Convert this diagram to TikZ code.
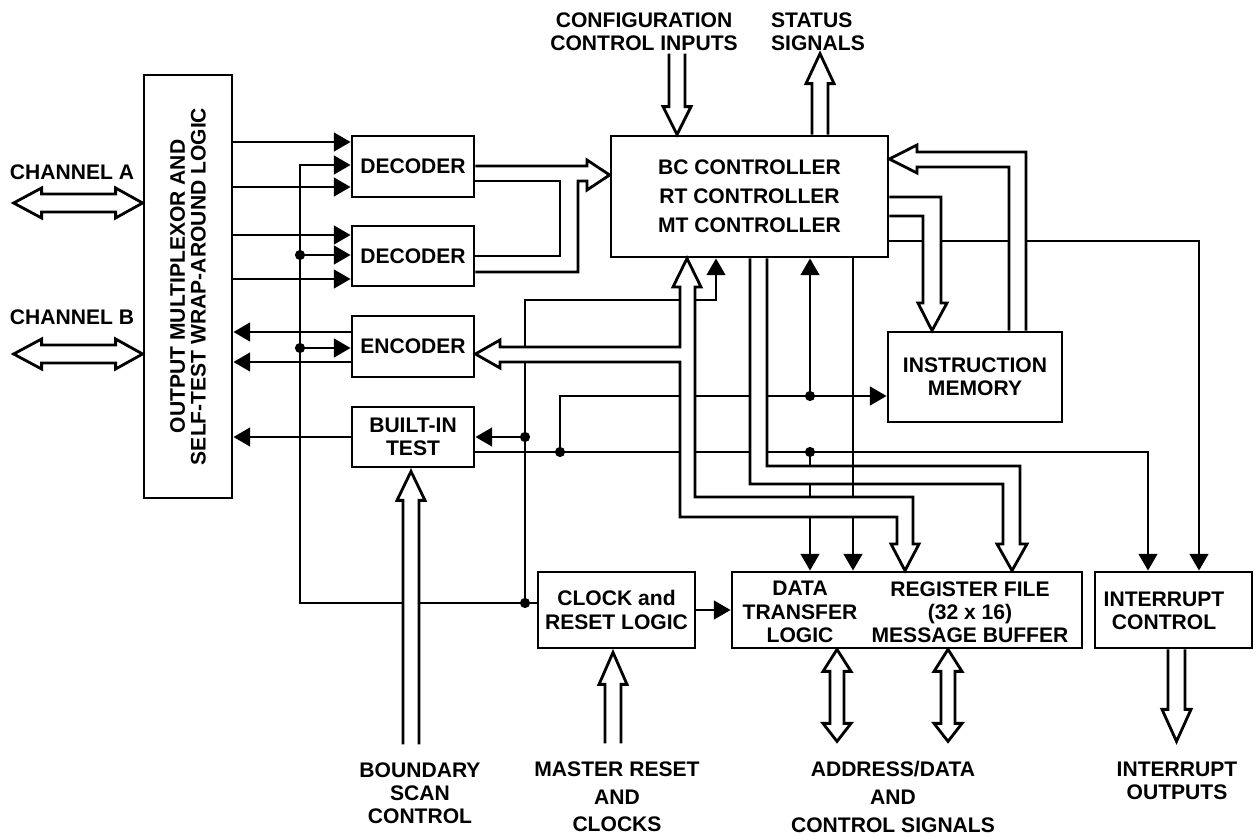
\documentclass[tikz,border=0pt]{standalone}
\usepackage{fontspec}
\setmainfont{Liberation Sans}
\usetikzlibrary{arrows.meta}

\begin{document}
\begin{tikzpicture}[x=0.02cm, y=-0.02cm, line width=1.6pt, >={Triangle[length=9.5pt,width=10.5pt]},
    every node/.style={font=\bfseries\fontsize{12}{13.2}\selectfont},
    blk/.style={draw, rectangle, align=center, inner sep=1pt},
    wide/.style={line join=miter},
    bus/.style={wide, fill=white},
    jn/.style={circle, fill, inner sep=0pt, minimum size=5.8pt}]
    \useasboundingbox (0,0) rectangle (1256,837);

    % Function Blocks
    \node [blk, minimum width=1.76cm, minimum height=8.46cm] (mux) at (188,286.5) {};
    \node [rotate=90, align=center] (muxtxt) at (mux.center) {OUTPUT MULTIPLEXOR AND\\[-1.5pt]SELF-TEST WRAP-AROUND LOGIC};
    \node [blk, minimum width=2.44cm, minimum height=1.22cm] (dec1) at (413,166.5) {DECODER};
    \node [blk, minimum width=2.44cm, minimum height=1.2cm] (dec2) at (413,256) {DECODER};
    \node [blk, minimum width=2.44cm, minimum height=1.22cm] (enc) at (413,346.5) {ENCODER};
    \node [blk, minimum width=2.44cm, minimum height=1.2cm] (bit) at (413,437) {BUILT-IN\\TEST};
    \node [blk, minimum width=5.54cm, minimum height=2.42cm] (bc) at (749.5,196.5) {BC CONTROLLER\\[3.3pt]RT CONTROLLER\\[3.3pt]MT CONTROLLER};
    \node [blk, minimum width=3.48cm, minimum height=1.8cm] (imem) at (975,377) {INSTRUCTION\\MEMORY};
    \node [blk, minimum width=3.14cm, minimum height=1.52cm] (clk) at (616.5,610) {CLOCK and\\RESET LOGIC};
    \node [blk, minimum width=7cm, minimum height=1.52cm] (dtl) at (907,610) {};
    \node [align=center] (dtltxt) at (800,612) {DATA\\TRANSFER\\LOGIC};
    \node [align=center] (regtxt) at (970,612) {REGISTER FILE\\(32 x 16)\\MESSAGE BUFFER};
    \node [blk, minimum width=3.14cm, minimum height=1.52cm] (intc) at (1173.5,610) {};
    \node [align=center] (intctxt) at (1164,611) {INTERRUPT\\CONTROL};

    % Outside Signal Labels
    \node (cha) at (72,172) {CHANNEL A};
    \node (chb) at (72,317) {CHANNEL B};
    \node [align=center] (cfg) at (644,31.5) {CONFIGURATION\\CONTROL INPUTS};
    \node [align=left] (stat) at (818,31.5) {STATUS\\SIGNALS};
    \node [align=center] (bscan) at (420,793) {BOUNDARY\\SCAN\\CONTROL};
    \node [align=center] (mrst) at (617,797) {MASTER RESET\\[2.5pt]AND\\[2.5pt]CLOCKS};
    \node [align=center] (adr) at (893,797) {ADDRESS/DATA\\[2.5pt]AND\\[2.5pt]CONTROL SIGNALS};
    \node [align=center] (iout) at (1177,781) {INTERRUPT\\OUTPUTS};

    % Junction Dots
    \node [jn] (j1) at (300,255) {};
    \node [jn] (j2) at (300,348) {};
    \node [jn] (j3) at (525,603) {};
    \node [jn] (j4) at (525,437) {};
    \node [jn] (j5) at (560,452) {};
    \node [jn] (j6) at (810,396) {};
    \node [jn] (j7) at (810,452) {};

    % Multiplexor Lines
    \draw [->] (mux.east |- 0,142) -- (dec1.west |- 0,142);
    \draw [->] (mux.east |- 0,187) -- (dec1.west |- 0,187);
    \draw [->] (mux.east |- 0,235) -- (dec2.west |- 0,235);
    \draw [->] (mux.east |- 0,279) -- (dec2.west |- 0,279);
    \draw [->] (enc.west |- 0,332) -- (mux.east |- 0,332);
    \draw [->] (enc.west |- 0,362) -- (mux.east |- 0,362);
    \draw [->] (bit.west) -- (mux.east |- bit.west);

    % Clock and Reset Lines
    \draw [->] (clk.west |- j3) -| (300,165) -- (dec1.west |- 0,165);
    \draw [->] (j1.center) -- (dec2.west |- j1);
    \draw [->] (j2.center) -- (enc.west |- j2);
    \draw [->] (j3.center) -- (j3 |- 0,300) -| (bc.south -| 716,0);
    \draw [->] (j4.center) -- (bit.east |- j4);
    \draw [->] (clk.east) -- (dtl.west);
    \draw (dec1.east |- 0,181) -| (560,256) -- (dec2.east |- 0,256);

    % Test and Controller Lines
    \draw [->] (bit.east |- j5) -| (intc.north -| 1148,0);
    \draw [->] (j5.center) |- (imem.west |- j6);
    \draw [->] (j6.center) -- (bc.south -| j6);
    \draw [->] (j7.center) -- (dtl.north -| j7);
    \draw [->] (bc.east |- 0,241) -| (intc.north -| 1199,0);

    % Wide Buses
    \draw [bus] (bc.south -| 750,0) |- (1003,484) -- (1003,544) -- (997,544) -- (dtl.north -| 1012,0) -- (1027,544) -- (1020,544) |- (767,466) -- (bc.south -| 767,0);
    \draw [->] (bc.south -| 853,0) -- (dtl.north -| 853,0);
    \draw [bus] (bc.south -| 687,0) -- (701,287) -- (695,287) |- (913,497) -- (913,544) -- (919,544) -- (dtl.north -| 905,0) -- (891,544) -- (897,544) |- (680,517) |- (500,362) -- (500,368) -- (enc.east |- 0,354) -- (500,340) -- (500,347) -| (680,287) -- (673,287) -- cycle;
    \draw [wide] (dec1.east |- 0,166) -- (587,166) -- (587,160) -- (bc.west |- 0,175) -- (587,190) -- (587,181) -- (578,181) -- (578,272) -- (dec2.east |- 0,272);
    \draw [bus] (imem.north -| 1026,0) |- (917,152) -- (917,145) -- (bc.east |- 0,159) -- (917,173) -- (917,167) -| (imem.north -| 1009,0);
    \draw [bus] (bc.east |- 0,197) -| (941,303) -- (947,303) -- (imem.north -| 932,0) -- (918,303) -- (923,303) |- (bc.east |- 0,216);
    \draw [wide] (bc.north -| 677,0) ++(-8,-81) -- ++(0,53) -- ++(-6,0) -- (bc.north -| 677,0) -- ++(14,-28) -- ++(-6,0) -- ++(0,-53);
    \draw [wide] (bc.north -| 812,0) -- ++(0,-51) -- ++(-6,0) -- ++(14,-30) -- ++(14,30) -- ++(-6,0) -- ++(0,51);

    % Outside Double and Single Arrows
    \draw [wide] (mux.west |- 0,203) -- ++(-27,-15) -- ++(0,6) -- ++(-74,0) -- ++(0,-6) -- ++(-28,15) -- ++(28,15) -- ++(0,-6) -- ++(74,0) -- ++(0,6) -- cycle;
    \draw [wide] (mux.west |- 0,354) -- ++(-27,-15) -- ++(0,6) -- ++(-74,0) -- ++(0,-6) -- ++(-28,15) -- ++(28,15) -- ++(0,-6) -- ++(74,0) -- ++(0,6) -- cycle;
    \draw [wide] (dtl.south -| 837,0) -- ++(-14,22) -- ++(7,0) -- ++(0,52) -- ++(-7,0) -- ++(14,18) -- ++(14,-18) -- ++(-7,0) -- ++(0,-52) -- ++(7,0) -- cycle;
    \draw [wide] (dtl.south -| 948,0) -- ++(-14,22) -- ++(7,0) -- ++(0,52) -- ++(-7,0) -- ++(14,18) -- ++(14,-18) -- ++(-7,0) -- ++(0,-52) -- ++(7,0) -- cycle;
    \draw [wide] (intc.south -| 1168,0) -- ++(0,60) -- ++(-6,0) -- ++(14.5,32) -- ++(14.5,-32) -- ++(-6,0) -- ++(0,-60);
    \draw [wide] (clk.south -| 605,0) ++(0,94) -- ++(0,-59) -- ++(-6,0) -- ++(14,-32) -- ++(14,32) -- ++(-6,0) -- ++(0,59);
    \draw [bus] (bit.south -| 403,0) ++(0,276) -- ++(0,-244) -- ++(-6,0) -- ++(14,-29) -- ++(14,29) -- ++(-6,0) -- ++(0,244);
\end{tikzpicture}
\end{document}
